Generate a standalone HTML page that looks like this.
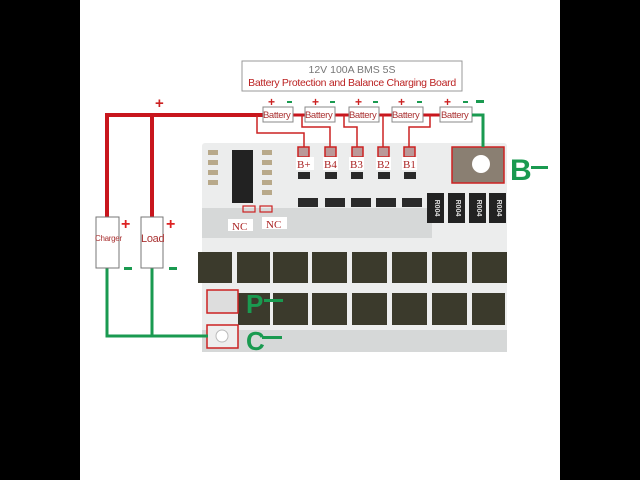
<!DOCTYPE html>
<html><head><meta charset="utf-8"><style>
html,body{margin:0;padding:0;background:#000;}
svg{display:block;}
</style></head><body>
<svg width="640" height="480" viewBox="0 0 640 480" xmlns="http://www.w3.org/2000/svg" font-family="Liberation Sans, sans-serif">
<rect x="0" y="0" width="640" height="480" fill="#000"/>
<rect x="80" y="0" width="480" height="480" fill="#fff"/>
<!-- title -->
<rect x="242" y="61" width="220" height="30" fill="#fff" stroke="#999" stroke-width="1"/>
<text x="352" y="73" font-size="10.5" fill="#777" text-anchor="middle">12V 100A BMS  5S</text>
<text x="352" y="86" font-size="10.5" fill="#b22" text-anchor="middle" letter-spacing="-0.3">Battery Protection and Balance Charging Board</text>
<!-- board -->
<rect x="202" y="143" width="305" height="209" rx="3" fill="#eceded"/>
<g fill="#d6d8d8">
<rect x="202" y="208" width="230" height="30"/>
<rect x="202" y="330" width="305" height="22"/>
</g>
<!-- IC -->
<rect x="232" y="150" width="21" height="53" fill="#222"/>
<g fill="#b8a98a">
<rect x="208" y="150" width="10" height="5"/><rect x="208" y="160" width="10" height="5"/><rect x="208" y="170" width="10" height="5"/><rect x="208" y="180" width="10" height="5"/>
<rect x="262" y="150" width="10" height="5"/><rect x="262" y="160" width="10" height="5"/><rect x="262" y="170" width="10" height="5"/><rect x="262" y="180" width="10" height="5"/><rect x="262" y="190" width="10" height="5"/>
</g>
<!-- small transistors -->
<g fill="#2a2a2a">
<rect x="298" y="172" width="12" height="7"/><rect x="325" y="172" width="12" height="7"/><rect x="351" y="172" width="12" height="7"/><rect x="378" y="172" width="12" height="7"/><rect x="404" y="172" width="12" height="7"/>
<rect x="298" y="198" width="20" height="9"/><rect x="325" y="198" width="20" height="9"/><rect x="351" y="198" width="20" height="9"/><rect x="376" y="198" width="20" height="9"/><rect x="402" y="198" width="20" height="9"/>
</g>
<!-- resistors -->
<g fill="#222">
<rect x="427" y="193" width="17" height="30"/><rect x="448" y="193" width="17" height="30"/><rect x="469" y="193" width="17" height="30"/><rect x="489" y="193" width="17" height="30"/>
</g>
<g fill="#ddd" font-size="7" font-weight="bold">
<text x="435" y="208" text-anchor="middle" transform="rotate(90 435 208)">R004</text>
<text x="456" y="208" text-anchor="middle" transform="rotate(90 456 208)">R004</text>
<text x="477" y="208" text-anchor="middle" transform="rotate(90 477 208)">R004</text>
<text x="497" y="208" text-anchor="middle" transform="rotate(90 497 208)">R004</text>
</g>
<!-- B- pad -->
<rect x="452" y="147" width="52" height="36" fill="#8a7f72" stroke="#c22" stroke-width="1.5"/>
<circle cx="481" cy="164" r="9" fill="#fff"/>
<!-- MOSFETs -->
<g fill="#3b3a2c">
<rect x="198" y="252" width="34" height="31"/><rect x="237" y="252" width="33" height="31"/><rect x="273" y="252" width="35" height="31"/><rect x="312" y="252" width="35" height="31"/><rect x="352" y="252" width="35" height="31"/><rect x="392" y="252" width="35" height="31"/><rect x="432" y="252" width="35" height="31"/><rect x="472" y="252" width="35" height="31"/>
<rect x="238" y="293" width="32" height="32"/><rect x="273" y="293" width="35" height="32"/><rect x="312" y="293" width="35" height="32"/><rect x="352" y="293" width="35" height="32"/><rect x="392" y="293" width="35" height="32"/><rect x="432" y="293" width="35" height="32"/><rect x="472" y="293" width="33" height="32"/>
</g>
<!-- P / C pads -->
<rect x="207" y="290" width="31" height="23" fill="#ddd" stroke="#c22" stroke-width="1.5"/>
<rect x="207" y="325" width="31" height="23" fill="#eee" stroke="#c22" stroke-width="1.5"/>
<circle cx="222" cy="336" r="6" fill="#fff" stroke="#bbb"/>
<!-- B pads -->
<g fill="#b99" stroke="#c22" stroke-width="1.5">
<rect x="298" y="147" width="11" height="10"/><rect x="325" y="147" width="11" height="10"/><rect x="352" y="147" width="11" height="10"/><rect x="378" y="147" width="11" height="10"/><rect x="404" y="147" width="11" height="10"/>
</g>
<g fill="#fff">
<rect x="296" y="157" width="18" height="13"/><rect x="323" y="157" width="15" height="13"/><rect x="349" y="157" width="15" height="13"/><rect x="376" y="157" width="15" height="13"/><rect x="402" y="157" width="15" height="13"/>
</g>
<g fill="#a22" font-family="Liberation Serif, serif" font-size="11">
<text x="297" y="168">B+</text><text x="324" y="168">B4</text><text x="350" y="168">B3</text><text x="377" y="168">B2</text><text x="403" y="168">B1</text>
</g>
<!-- NC -->
<rect x="243" y="206" width="12" height="6" fill="none" stroke="#c22" stroke-width="1.2"/>
<rect x="260" y="206" width="12" height="6" fill="none" stroke="#c22" stroke-width="1.2"/>
<rect x="228" y="219" width="25" height="12" fill="#fff"/>
<rect x="262" y="217" width="25" height="12" fill="#fff"/>
<g fill="#a22" font-family="Liberation Serif, serif" font-size="11">
<text x="232" y="230">NC</text><text x="266" y="228">NC</text>
</g>
<!-- red wiring -->
<g stroke="#c8161d" stroke-width="4" fill="none">
<polyline points="107,217 107,115 263,115"/>
<line x1="152" y1="115" x2="152" y2="217"/>
</g>
<g stroke="#c8161d" stroke-width="3" fill="none">
<line x1="293" y1="115" x2="305" y2="115"/>
<line x1="335" y1="115" x2="349" y2="115"/>
<line x1="379" y1="115" x2="392" y2="115"/>
<line x1="423" y1="115" x2="440" y2="115"/>
</g>
<g stroke="#c22" stroke-width="1.5" fill="none">
<polyline points="257,115 257,133 304,133 304,147"/>
<polyline points="302,115 302,127 330,127 330,147"/>
<polyline points="344,115 344,127 357,127 357,147"/>
<polyline points="383,115 383,147"/>
<polyline points="430,115 430,127 409,127 409,147"/>
</g>
<!-- batteries -->
<g fill="#fff" stroke="#888" stroke-width="1">
<rect x="263" y="107" width="30" height="15"/><rect x="305" y="107" width="30" height="15"/><rect x="349" y="107" width="30" height="15"/><rect x="392" y="107" width="31" height="15"/><rect x="440" y="107" width="32" height="15"/>
</g>
<g fill="#a33" font-size="9.5" letter-spacing="-0.4">
<text x="263" y="118">Battery</text><text x="305" y="118">Battery</text><text x="349" y="118">Battery</text><text x="392" y="118">Battery</text><text x="441" y="118">Battery</text>
</g>
<g font-size="12" font-weight="bold" fill="#c22">
<text x="268" y="106">+</text><text x="312" y="106">+</text><text x="355" y="106">+</text><text x="398" y="106">+</text><text x="444" y="106">+</text>
<text x="155" y="108" font-size="15">+</text>
</g>
<g fill="#1a9a50">
<rect x="287" y="101" width="5" height="2"/><rect x="330" y="101" width="5" height="2"/><rect x="373" y="101" width="5" height="2"/><rect x="417" y="101" width="5" height="2"/><rect x="463" y="101" width="5" height="2"/>
<rect x="476" y="100" width="8" height="3"/>
</g>
<!-- green wiring -->
<g stroke="#1a9a50" stroke-width="3" fill="none">
<polyline points="472,115 483,115 483,147"/>
<polyline points="107,268 107,336 208,336"/>
<line x1="152" y1="268" x2="152" y2="336"/>
</g>
<!-- charger / load -->
<rect x="96" y="217" width="23" height="51" fill="#fff" stroke="#777"/>
<rect x="141" y="217" width="22" height="51" fill="#fff" stroke="#777"/>
<text x="95" y="241" font-size="8" fill="#a33" letter-spacing="-0.3">Charger</text>
<text x="141" y="242" font-size="11" fill="#a33" letter-spacing="-0.3">Load</text>
<g font-weight="bold" font-size="16" fill="#d22">
<text x="121" y="229">+</text><text x="166" y="229">+</text>
</g>
<g fill="#1a9a50">
<rect x="124" y="267" width="8" height="3"/><rect x="169" y="267" width="8" height="3"/>
</g>
<!-- big labels -->
<g fill="#1a9a50" font-weight="bold">
<text x="510" y="180" font-size="30">B</text>
<rect x="531" y="166" width="17" height="3"/>
<text x="246" y="313" font-size="26">P</text>
<rect x="264" y="299" width="19" height="3"/>
<text x="246" y="350" font-size="26">C</text>
<rect x="262" y="336" width="20" height="3"/>
</g>
</svg>
</body></html>
